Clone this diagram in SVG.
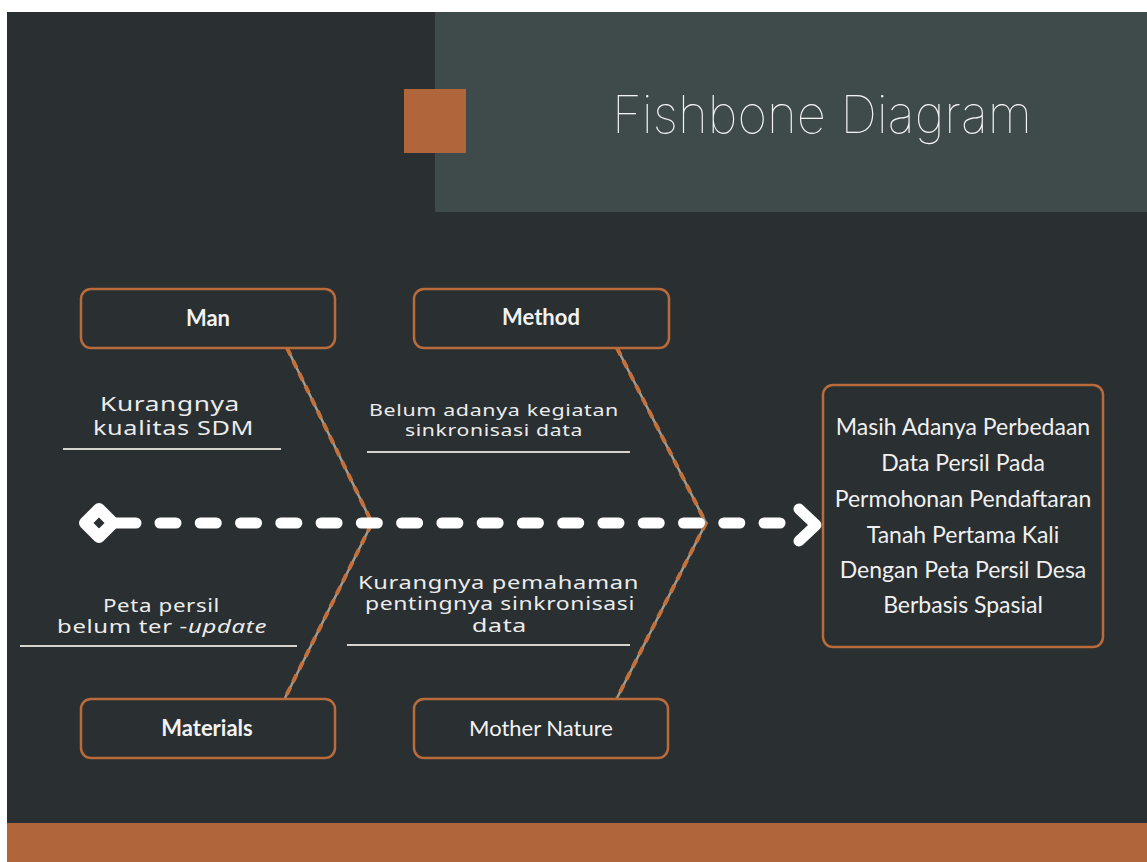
<svg xmlns="http://www.w3.org/2000/svg" width="1147" height="862" viewBox="0 0 1147 862">
<style>
.box{fill:#2a2f31;stroke:#b96b3c;stroke-width:2.5}
.lbl{font-family:Lato,"Open Sans",sans-serif;fill:#f2f2f2;text-anchor:middle;font-size:22px}
.b{font-weight:bold}
.cause{font-family:"Noto Sans","Open Sans",sans-serif;fill:#ececec;text-anchor:middle;letter-spacing:0.5px}
.ul{stroke:#d6d4cc;stroke-width:2}
.bone-base{fill:none;stroke:#a59a8c;stroke-width:2.5}
.bone{fill:none;stroke:#c4703b;stroke-width:4;stroke-dasharray:8 6}
.spine{fill:none;stroke:#ffffff;stroke-width:11;stroke-linecap:round;stroke-linejoin:round}
.eff{font-family:Lato,"Open Sans",sans-serif;fill:#f0f0f0;text-anchor:middle;font-size:23px}
</style>
<rect x="0" y="0" width="1147" height="862" fill="#ffffff"/>
<rect x="7" y="12" width="1140" height="850" fill="#2a2f31"/>
<rect x="435" y="12" width="712" height="200" fill="#3e4b4a"/>
<rect x="404" y="89" width="62" height="64" fill="#b0653a"/>
<rect x="7" y="823" width="1140" height="39" fill="#b0653a"/>
<text x="612" y="133" font-family="Inter,Lato,sans-serif" font-weight="100" font-size="52" fill="#f4f4f4" textLength="420" lengthAdjust="spacingAndGlyphs">Fishbone Diagram</text>

<g id="connectors">
<path class="bone-base" d="M287 348 L372 523 L285 698"/>
<path class="bone" d="M287 348 L372 523 L285 698"/>
<path class="bone-base" d="M617 348 L706 523 L617 698"/>
<path class="bone" d="M617 348 L706 523 L617 698"/>
<path d="M99 509 L113 523 L99 537 L85 523 Z" fill="#2a2f31" stroke="#ffffff" stroke-width="12" stroke-linejoin="round"/>
<line class="spine" x1="113" y1="523" x2="136" y2="523"/>
<line class="spine" x1="160" y1="523" x2="781" y2="523" stroke-dasharray="16 24.27"/>
<polyline class="spine" points="799,509 816,525 799,541" stroke-width="12"/>
</g>

<g id="man">
<rect class="box" x="81" y="289" width="254" height="59" rx="10"/>
<text class="lbl b" x="208" y="326" font-size="21">Man</text>
</g>
<g id="method">
<rect class="box" x="414" y="289" width="255" height="59" rx="10"/>
<text class="lbl b" x="541" y="325" font-size="21">Method</text>
</g>
<g id="materials">
<rect class="box" x="81" y="699" width="254" height="59" rx="10"/>
<text class="lbl b" x="207" y="736" font-size="21">Materials</text>
</g>
<g id="mother-nature">
<rect class="box" x="414" y="699" width="254" height="59" rx="10"/>
<text class="lbl" x="541" y="736" font-size="22">Mother Nature</text>
</g>
<g id="effect">
<rect class="box" x="823" y="385" width="280" height="262" rx="10"/>
<text class="eff" x="963" y="435">Masih Adanya Perbedaan</text>
<text class="eff" x="963" y="471">Data Persil Pada</text>
<text class="eff" x="963" y="507">Permohonan Pendaftaran</text>
<text class="eff" x="963" y="543">Tanah Pertama Kali</text>
<text class="eff" x="963" y="578">Dengan Peta Persil Desa</text>
<text class="eff" x="963" y="613">Berbasis Spasial</text>
</g>

<g id="cause-man">
<text class="cause" x="170" y="411" font-size="20" textLength="140" lengthAdjust="spacingAndGlyphs">Kurangnya</text>
<text class="cause" x="173.5" y="435" font-size="20" textLength="161" lengthAdjust="spacingAndGlyphs">kualitas SDM</text>
<line class="ul" x1="63" y1="449" x2="281" y2="449"/>
</g>
<g id="cause-method">
<text class="cause" x="494" y="416" font-size="16.5" textLength="250" lengthAdjust="spacingAndGlyphs">Belum adanya kegiatan</text>
<text class="cause" x="494" y="436" font-size="16.5" textLength="178" lengthAdjust="spacingAndGlyphs">sinkronisasi data</text>
<line class="ul" x1="367" y1="452" x2="630" y2="452"/>
</g>
<g id="cause-materials">
<text class="cause" x="161.5" y="612" font-size="18" textLength="117" lengthAdjust="spacingAndGlyphs">Peta persil</text>
<text class="cause" x="162" y="633" font-size="18" textLength="210" lengthAdjust="spacingAndGlyphs">belum ter -<tspan font-style="italic">update</tspan></text>
<line class="ul" x1="20" y1="646" x2="297" y2="646"/>
</g>
<g id="cause-mother-nature">
<text class="cause" x="498.5" y="589" font-size="18" textLength="281" lengthAdjust="spacingAndGlyphs">Kurangnya pemahaman</text>
<text class="cause" x="500" y="610" font-size="18" textLength="270" lengthAdjust="spacingAndGlyphs">pentingnya sinkronisasi</text>
<text class="cause" x="499.5" y="632" font-size="18" textLength="55" lengthAdjust="spacingAndGlyphs">data</text>
<line class="ul" x1="347" y1="645" x2="630" y2="645"/>
</g>
</svg>
